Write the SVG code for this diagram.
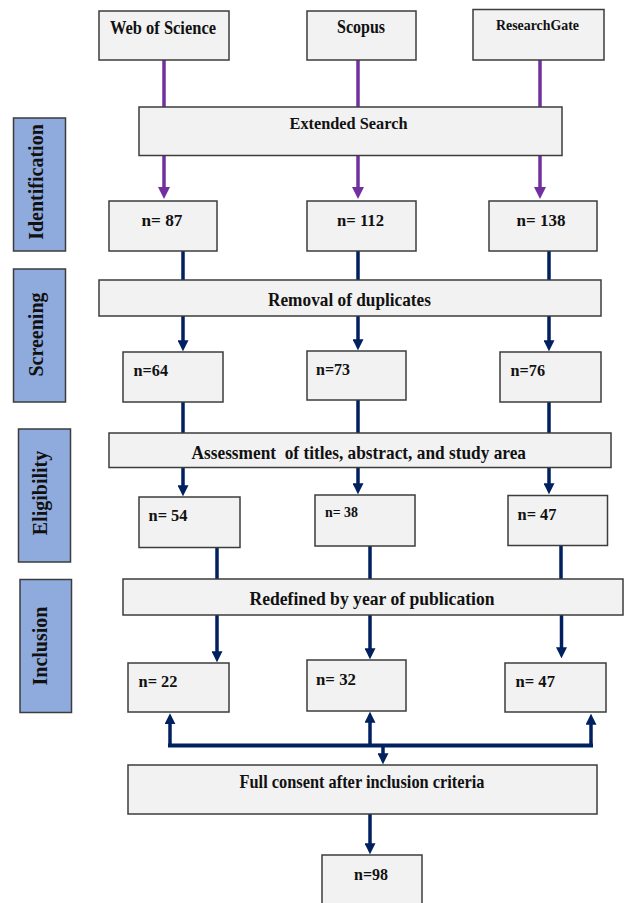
<svg xmlns="http://www.w3.org/2000/svg" width="627" height="903" viewBox="0 0 627 903">
<style>
.box{fill:#f2f2f2;stroke:#3c3c3c;stroke-width:1.5}
.side{fill:#8faadc;stroke:#3c3c3c;stroke-width:1.5}
text{font-family:"Liberation Serif","Times New Roman",serif;font-weight:bold;fill:#111}
.t16{font-size:17px}
.t19{font-size:19px}
.t17{font-size:17px}
.t14{font-size:14px}
.t15{font-size:15px}
.t20{font-size:20px}
.pur{stroke:#7030a0;stroke-width:3.5;fill:none}
.nav{stroke:#002060;stroke-width:3.5;fill:none}
</style>
<defs>
<marker id="ap" viewBox="0 0 12 12" refX="4" refY="6" markerWidth="12" markerHeight="12" markerUnits="userSpaceOnUse" orient="auto"><path d="M0,0 L12,6 L0,12 z" fill="#7030a0"/></marker>
<marker id="an" viewBox="0 0 12 12" refX="4" refY="6" markerWidth="11" markerHeight="11" markerUnits="userSpaceOnUse" orient="auto"><path d="M0,0 L12,6 L0,12 z" fill="#002060"/></marker>
</defs>

<g id="connectors">
<path class="pur" d="M164,60 V107"/>
<path class="pur" d="M358,60 V107"/>
<path class="pur" d="M540,60 V107"/>
<path class="pur" d="M164,155 V191" marker-end="url(#ap)"/>
<path class="pur" d="M358,155 V191" marker-end="url(#ap)"/>
<path class="pur" d="M540,155 V191" marker-end="url(#ap)"/>
<path class="nav" d="M183,251 V280"/>
<path class="nav" d="M358,251 V280"/>
<path class="nav" d="M549,251 V280"/>
<path class="nav" d="M183,316 V344" marker-end="url(#an)"/>
<path class="nav" d="M358,316 V343" marker-end="url(#an)"/>
<path class="nav" d="M549,316 V344" marker-end="url(#an)"/>
<path class="nav" d="M183,402 V433"/>
<path class="nav" d="M358,400 V433"/>
<path class="nav" d="M549,402 V433"/>
<path class="nav" d="M183,467.5 V489" marker-end="url(#an)"/>
<path class="nav" d="M358,467.5 V487" marker-end="url(#an)"/>
<path class="nav" d="M549,467.5 V487" marker-end="url(#an)"/>
<path class="nav" d="M217,547 V579"/>
<path class="nav" d="M370,546 V579"/>
<path class="nav" d="M561,546 V579"/>
<path class="nav" d="M217,615 V655" marker-end="url(#an)"/>
<path class="nav" d="M370,615 V652" marker-end="url(#an)"/>
<path class="nav" d="M561.5,615 V651" marker-end="url(#an)"/>
<path class="nav" d="M168,745.5 H593" style="stroke-width:4"/>
<path class="nav" d="M170,747 V720.5" marker-end="url(#an)"/>
<path class="nav" d="M370,747 V719" marker-end="url(#an)"/>
<path class="nav" d="M591,747 V721" marker-end="url(#an)"/>
<path class="nav" d="M383,745 V757" marker-end="url(#an)"/>
<path class="nav" d="M370,814 V847" marker-end="url(#an)"/>
</g>

<g id="side-identification"><rect class="side" x="13.5" y="118" width="52" height="133"/><text class="t20" transform="translate(43,182) rotate(-90)" text-anchor="middle">Identification</text></g>
<g id="side-screening"><rect class="side" x="13.5" y="269" width="52" height="133"/><text class="t20" transform="translate(43,334.5) rotate(-90)" text-anchor="middle">Screening</text></g>
<g id="side-eligibility"><rect class="side" x="18.5" y="429" width="52" height="133"/><text class="t20" transform="translate(47,493) rotate(-90)" text-anchor="middle">Eligibility</text></g>
<g id="side-inclusion"><rect class="side" x="20" y="579.5" width="51.5" height="133"/><text class="t20" transform="translate(47,646) rotate(-90)" text-anchor="middle">Inclusion</text></g>

<g id="wos"><rect class="box" x="99" y="11" width="130" height="49"/><text class="t19" x="110" y="34" textLength="106" lengthAdjust="spacingAndGlyphs">Web of Science</text></g>
<g id="scopus"><rect class="box" x="307" y="11" width="109" height="49"/><text class="t19" x="337" y="33" textLength="48" lengthAdjust="spacingAndGlyphs">Scopus</text></g>
<g id="researchgate"><rect class="box" x="473" y="9.5" width="131" height="50.5"/><text class="t14" x="496" y="30" textLength="83" lengthAdjust="spacingAndGlyphs">ResearchGate</text></g>

<g id="extended"><rect class="box" x="139" y="107" width="423" height="48.5"/><text class="t17" x="289.5" y="129" textLength="118" lengthAdjust="spacingAndGlyphs">Extended Search</text></g>

<g id="n87"><rect class="box" x="109" y="201" width="108" height="50"/><text class="t16" x="141.5" y="226" textLength="41" lengthAdjust="spacingAndGlyphs">n= 87</text></g>
<g id="n112"><rect class="box" x="307" y="201" width="109" height="50"/><text class="t16" x="337" y="226" textLength="47" lengthAdjust="spacingAndGlyphs">n= 112</text></g>
<g id="n138"><rect class="box" x="489" y="201" width="108" height="50"/><text class="t16" x="516.5" y="225.5" textLength="49" lengthAdjust="spacingAndGlyphs">n= 138</text></g>

<g id="removal"><rect class="box" x="99" y="280" width="502" height="36"/><text class="t19" x="268" y="306" textLength="163" lengthAdjust="spacingAndGlyphs">Removal of duplicates</text></g>

<g id="n64"><rect class="box" x="123" y="352" width="100" height="50"/><text class="t16" x="133.5" y="376" textLength="34.5" lengthAdjust="spacingAndGlyphs">n=64</text></g>
<g id="n73"><rect class="box" x="307" y="351" width="99" height="49"/><text class="t16" x="316" y="374.5" textLength="34" lengthAdjust="spacingAndGlyphs">n=73</text></g>
<g id="n76"><rect class="box" x="500" y="352" width="101" height="50"/><text class="t16" x="510.5" y="376" textLength="34.5" lengthAdjust="spacingAndGlyphs">n=76</text></g>

<g id="assessment"><rect class="box" x="109" y="433" width="502" height="34.5"/><text class="t19" x="191.5" y="459" textLength="334.5" lengthAdjust="spacingAndGlyphs" xml:space="preserve">Assessment  of titles, abstract, and study area</text></g>

<g id="n54"><rect class="box" x="139" y="497" width="101" height="50.5"/><text class="t16" x="148.5" y="521" textLength="39" lengthAdjust="spacingAndGlyphs">n= 54</text></g>
<g id="n38"><rect class="box" x="315" y="495" width="100" height="51"/><text class="t15" x="325" y="516.5" textLength="33" lengthAdjust="spacingAndGlyphs">n= 38</text></g>
<g id="n47a"><rect class="box" x="508" y="495.5" width="99.5" height="50"/><text class="t16" x="517.5" y="520" textLength="39" lengthAdjust="spacingAndGlyphs">n= 47</text></g>

<g id="redefined"><rect class="box" x="123" y="579" width="500" height="36"/><text class="t19" x="249.5" y="604.5" textLength="245" lengthAdjust="spacingAndGlyphs">Redefined by year of publication</text></g>

<g id="n22"><rect class="box" x="128" y="663" width="101" height="49"/><text class="t16" x="138.5" y="687" textLength="39" lengthAdjust="spacingAndGlyphs">n= 22</text></g>
<g id="n32"><rect class="box" x="307" y="660" width="99" height="51"/><text class="t16" x="316" y="685" textLength="40" lengthAdjust="spacingAndGlyphs">n= 32</text></g>
<g id="n47b"><rect class="box" x="505" y="663" width="101" height="49"/><text class="t16" x="515.5" y="687" textLength="39.5" lengthAdjust="spacingAndGlyphs">n= 47</text></g>

<g id="fullconsent"><rect class="box" x="128" y="765" width="469" height="49"/><text class="t19" x="239.5" y="788" textLength="245" lengthAdjust="spacingAndGlyphs">Full consent after inclusion criteria</text></g>

<g id="n98"><rect class="box" x="322" y="855" width="100" height="60"/><text class="t16" x="354" y="879.5" textLength="34" lengthAdjust="spacingAndGlyphs">n=98</text></g>
</svg>
